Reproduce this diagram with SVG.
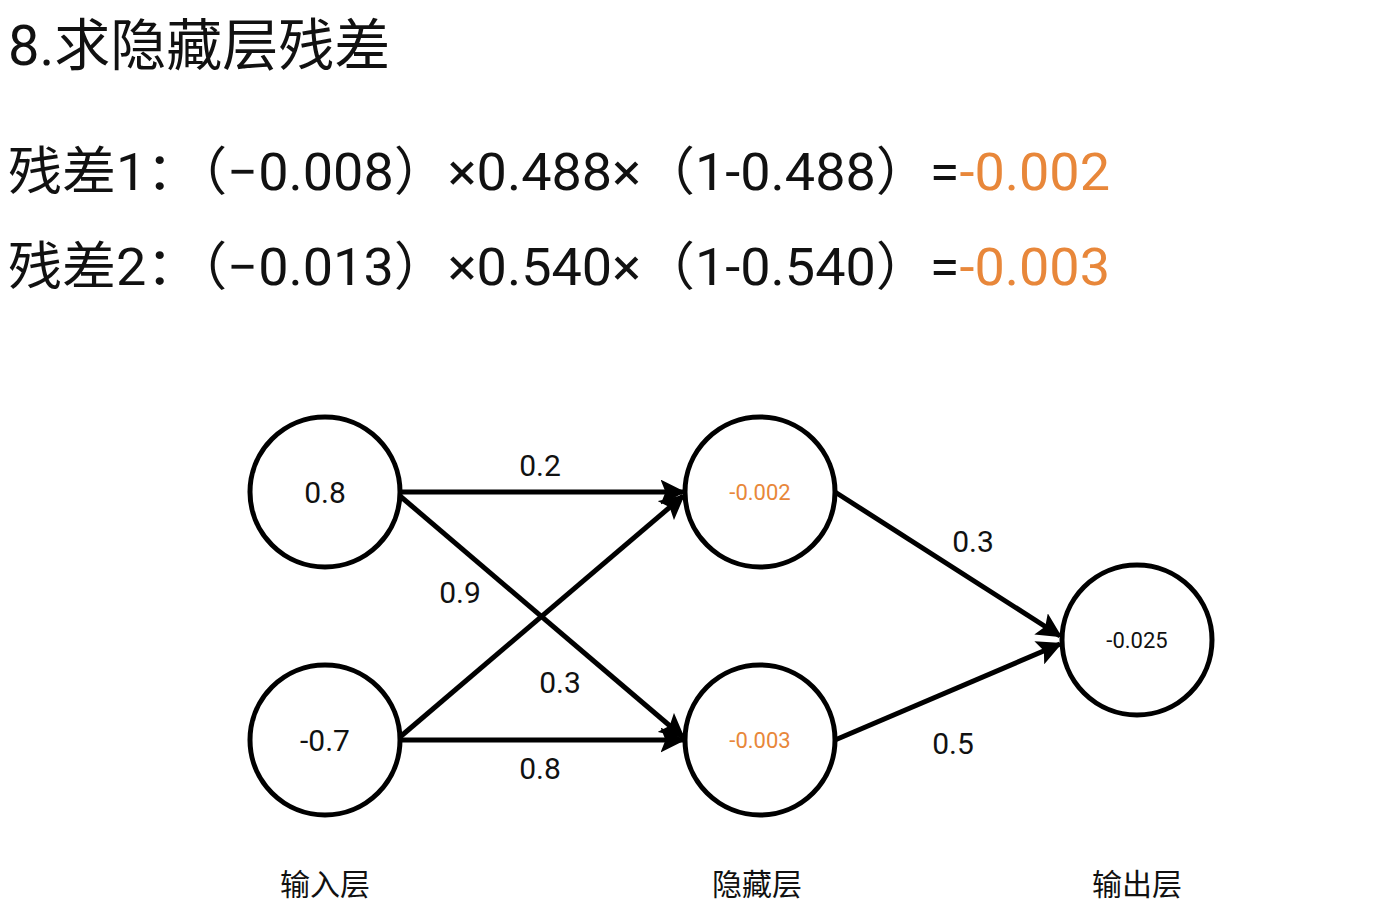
<svg xmlns="http://www.w3.org/2000/svg" width="1388" height="924" viewBox="0 0 1388 924">
<style>
text{font-family:Roboto,"Noto Sans CJK SC",sans-serif;fill:#111}
.node{fill:#fff;stroke:#000;stroke-width:5}
.nv{font-size:30px;text-anchor:middle}
.sv{font-size:22px;text-anchor:middle}
.or{fill:#e8873a}
.el{font-size:30px;text-anchor:middle}
.ll{font-size:30px;text-anchor:middle;font-family:"Noto Sans CJK SC",sans-serif}
.eq{font-size:52px}
line{stroke:#000;stroke-width:5}
</style>
<defs><marker id="ah" viewBox="0 0 10 10" refX="9" refY="5" markerWidth="5" markerHeight="5" orient="auto" markerUnits="strokeWidth"><path d="M0,0 L10,5 L0,10 L2,5 z" fill="#000"/></marker></defs>
<rect width="1388" height="924" fill="#fff"/>
<text x="8" y="65" font-size="56">8.求隐藏层残差</text>
<text class="eq" x="8" y="190" textLength="1102" lengthAdjust="spacingAndGlyphs">残差1：（−0.008）×0.488×（1-0.488）=<tspan class="or">-0.002</tspan></text>
<text class="eq" x="8" y="285" textLength="1102" lengthAdjust="spacingAndGlyphs">残差2：（−0.013）×0.540×（1-0.540）=<tspan class="or">-0.003</tspan></text>
<g id="connectors">
<line x1="400" y1="492" x2="683" y2="492" marker-end="url(#ah)"/>
<line x1="400" y1="496" x2="683" y2="737" marker-end="url(#ah)"/>
<line x1="400" y1="737" x2="683" y2="496" marker-end="url(#ah)"/>
<line x1="400" y1="740" x2="683" y2="740" marker-end="url(#ah)"/>
<line x1="835" y1="492" x2="1060" y2="636" marker-end="url(#ah)"/>
<line x1="835" y1="740" x2="1060" y2="644" marker-end="url(#ah)"/>
<text class="el" x="540" y="476">0.2</text>
<text class="el" x="460" y="603">0.9</text>
<text class="el" x="560" y="693">0.3</text>
<text class="el" x="540" y="779">0.8</text>
<text class="el" x="973" y="552">0.3</text>
<text class="el" x="953" y="754">0.5</text>
</g>
<g id="in1"><circle class="node" cx="325" cy="492" r="75"/><text class="nv" x="325" y="503">0.8</text></g>
<g id="in2"><circle class="node" cx="325" cy="740" r="75"/><text class="nv" x="325" y="751">-0.7</text></g>
<g id="h1"><circle class="node" cx="760" cy="492" r="75"/><text class="sv or" x="760" y="500">-0.002</text></g>
<g id="h2"><circle class="node" cx="760" cy="740" r="75"/><text class="sv or" x="760" y="748">-0.003</text></g>
<g id="out"><circle class="node" cx="1137" cy="640" r="75"/><text class="sv" x="1137" y="648">-0.025</text></g>
<text class="ll" x="325" y="895">输入层</text>
<text class="ll" x="757" y="895">隐藏层</text>
<text class="ll" x="1137" y="895">输出层</text>
</svg>
